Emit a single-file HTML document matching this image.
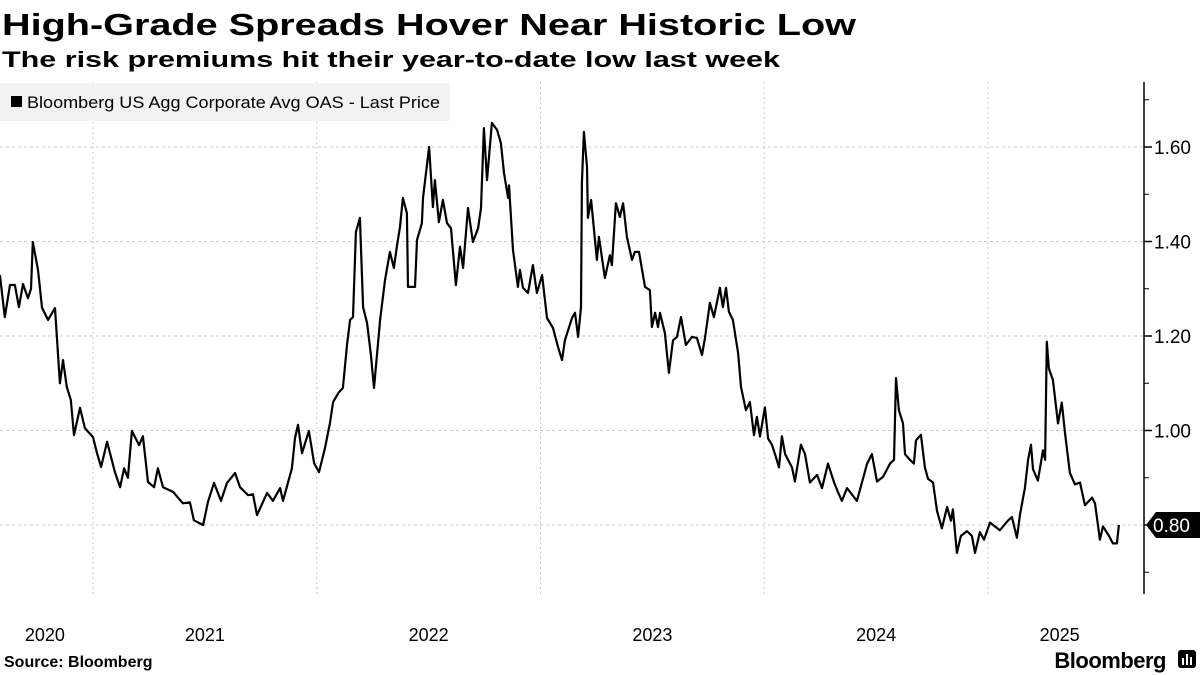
<!DOCTYPE html>
<html><head><meta charset="utf-8"><style>
html,body{margin:0;padding:0;background:#fff;}
svg{display:block;font-family:"Liberation Sans",sans-serif;}
</style></head><body>
<svg id="chart" width="1200" height="675" viewBox="0 0 1200 675" xmlns="http://www.w3.org/2000/svg">
<text x="2" y="35" font-size="31" font-weight="bold" textLength="854" lengthAdjust="spacingAndGlyphs">High-Grade Spreads Hover Near Historic Low</text>
<text x="2" y="67" font-size="22" font-weight="bold" textLength="778" lengthAdjust="spacingAndGlyphs">The risk premiums hit their year-to-date low last week</text>
<g id="grid"></g>
<g id="axes"></g>
<g>
<rect x="0" y="83" width="450" height="38" fill="#f2f2f2"/>
<rect x="11" y="96" width="11" height="11" fill="#000"/>
<text x="27" y="108" font-size="17" textLength="413" lengthAdjust="spacingAndGlyphs">Bloomberg US Agg Corporate Avg OAS - Last Price</text>
</g>
<g id="series"></g>
<g id="xaxis"></g>
<text x="4" y="667" font-size="16" font-weight="bold">Source: Bloomberg</text>
<text x="1166" y="668" font-size="22" font-weight="bold" text-anchor="end" letter-spacing="-0.5">Bloomberg</text>
<g>
<rect x="1178" y="650" width="18" height="18" rx="3" fill="#000"/>
<rect x="1182" y="658" width="2" height="7" fill="#fff"/><rect x="1186" y="654" width="2" height="11" fill="#fff"/><rect x="1190" y="657" width="2" height="8" fill="#fff"/>
</g>
</svg>
<script>
const dates=[2020.584,2020.606,2020.629,2020.651,2020.669,2020.687,2020.709,2020.723,2020.731,2020.754,2020.772,2020.799,2020.830,2020.852,2020.866,2020.883,2020.901,2020.915,2020.942,2020.964,2021.000,2021.018,2021.036,2021.063,2021.098,2021.121,2021.139,2021.156,2021.174,2021.206,2021.223,2021.246,2021.273,2021.290,2021.313,2021.358,2021.402,2021.433,2021.451,2021.492,2021.514,2021.541,2021.572,2021.599,2021.635,2021.657,2021.693,2021.715,2021.733,2021.778,2021.804,2021.836,2021.849,2021.889,2021.903,2021.916,2021.934,2021.965,2021.988,2022.010,2022.037,2022.059,2022.073,2022.099,2022.117,2022.135,2022.149,2022.162,2022.175,2022.193,2022.207,2022.225,2022.242,2022.256,2022.283,2022.305,2022.327,2022.345,2022.359,2022.372,2022.385,2022.403,2022.408,2022.439,2022.448,2022.470,2022.475,2022.502,2022.519,2022.528,2022.546,2022.564,2022.582,2022.600,2022.622,2022.640,2022.654,2022.676,2022.698,2022.721,2022.734,2022.747,2022.761,2022.783,2022.806,2022.823,2022.837,2022.855,2022.859,2022.877,2022.899,2022.908,2022.922,2022.944,2022.966,2022.984,2023.007,2023.029,2023.056,2023.078,2023.096,2023.109,2023.141,2023.154,2023.168,2023.181,2023.185,2023.194,2023.208,2023.212,2023.226,2023.252,2023.261,2023.288,2023.310,2023.319,2023.337,2023.355,2023.369,2023.386,2023.409,2023.422,2023.440,2023.467,2023.489,2023.498,2023.512,2023.525,2023.534,2023.556,2023.574,2023.592,2023.610,2023.628,2023.650,2023.677,2023.699,2023.722,2023.735,2023.757,2023.775,2023.802,2023.815,2023.829,2023.842,2023.860,2023.883,2023.896,2023.918,2023.936,2023.954,2023.967,2023.981,2024.003,2024.017,2024.034,2024.048,2024.066,2024.079,2024.093,2024.124,2024.137,2024.164,2024.182,2024.204,2024.236,2024.258,2024.285,2024.312,2024.329,2024.347,2024.370,2024.414,2024.459,2024.481,2024.504,2024.531,2024.562,2024.580,2024.589,2024.602,2024.620,2024.629,2024.651,2024.669,2024.678,2024.700,2024.718,2024.732,2024.754,2024.772,2024.794,2024.817,2024.834,2024.843,2024.861,2024.879,2024.906,2024.928,2024.942,2024.964,2024.982,2025.009,2025.053,2025.089,2025.107,2025.129,2025.143,2025.165,2025.179,2025.192,2025.201,2025.223,2025.246,2025.255,2025.263,2025.272,2025.290,2025.313,2025.330,2025.344,2025.366,2025.389,2025.411,2025.433,2025.465,2025.478,2025.500,2025.514,2025.541,2025.558,2025.576,2025.585];
const oas=[1.329,1.240,1.308,1.308,1.261,1.310,1.280,1.300,1.399,1.340,1.260,1.234,1.259,1.100,1.149,1.092,1.065,0.990,1.048,1.005,0.986,0.952,0.923,0.976,0.912,0.880,0.920,0.900,0.999,0.969,0.988,0.891,0.880,0.920,0.880,0.870,0.846,0.848,0.810,0.800,0.849,0.889,0.851,0.889,0.910,0.880,0.863,0.865,0.821,0.868,0.851,0.878,0.851,0.920,0.984,1.012,0.952,0.999,0.931,0.912,0.963,1.016,1.060,1.081,1.090,1.181,1.234,1.240,1.420,1.450,1.261,1.227,1.160,1.090,1.234,1.318,1.378,1.344,1.393,1.431,1.492,1.460,1.304,1.304,1.403,1.439,1.492,1.600,1.473,1.530,1.441,1.488,1.439,1.428,1.308,1.389,1.344,1.471,1.399,1.428,1.471,1.640,1.530,1.651,1.636,1.608,1.545,1.492,1.519,1.382,1.304,1.340,1.302,1.291,1.350,1.291,1.329,1.238,1.217,1.177,1.149,1.191,1.238,1.249,1.198,1.261,1.524,1.632,1.558,1.450,1.488,1.361,1.410,1.323,1.371,1.350,1.481,1.452,1.481,1.410,1.361,1.378,1.378,1.304,1.297,1.219,1.249,1.219,1.249,1.206,1.122,1.191,1.198,1.240,1.181,1.198,1.196,1.160,1.196,1.270,1.240,1.302,1.261,1.302,1.251,1.234,1.164,1.092,1.043,1.060,0.990,1.029,0.987,1.049,0.983,0.970,0.950,0.922,0.988,0.950,0.922,0.892,0.970,0.950,0.890,0.906,0.878,0.930,0.890,0.870,0.851,0.878,0.851,0.929,0.950,0.892,0.902,0.930,0.938,1.111,1.043,1.015,0.950,0.938,0.930,0.979,0.991,0.922,0.898,0.890,0.830,0.793,0.838,0.809,0.833,0.741,0.777,0.787,0.777,0.741,0.785,0.769,0.805,0.789,0.809,0.817,0.773,0.822,0.878,0.938,0.970,0.918,0.894,0.958,0.938,1.188,1.131,1.107,1.015,1.059,0.995,0.910,0.886,0.890,0.842,0.858,0.846,0.769,0.797,0.777,0.761,0.761,0.800];
const yMajorTicks=[0.80,1.00,1.20,1.40,1.60];
const yMinorTicks=[0.70,0.90,1.10,1.30,1.50,1.70];
const yearTicks=[2021,2022,2023,2024,2025];
const yearLabels=["2020","2021","2022","2023","2024","2025"];
const yearLabelPos=[2020.785,2021.5,2022.5,2023.5,2024.5,2025.32];
const lastLabel="0.80";

const NS="http://www.w3.org/2000/svg";
const plotL=0,plotR=1144,plotT=82,plotB=594;
function xScale(t){return 93+(t-2021)*223.75;}
function yScale(v){return 525-(v-0.8)*472.5;}
function mk(tag,attrs,parent){const e=document.createElementNS(NS,tag);for(const k in attrs)e.setAttribute(k,attrs[k]);parent.appendChild(e);return e;}
const grid=document.getElementById('grid'),axes=document.getElementById('axes'),series=document.getElementById('series'),xaxis=document.getElementById('xaxis');
yMajorTicks.forEach(v=>{
  const y=yScale(v);
  const g=mk('line',{x1:plotL,x2:plotR,y1:y,y2:y,stroke:'#c8c8c8','stroke-width':1,'stroke-dasharray':'3,3'},grid);
  
  
  const t=mk('line',{x1:plotR,x2:plotR+8,y1:y,y2:y,stroke:'#000','stroke-width':1.5},axes);
  
  
  if(Math.abs(v-0.8)>1e-6){
    const l=mk('text',{x:plotR+10,y:y+7,'font-size':19},axes);
    
    
    l.textContent=v.toFixed(2);
  }
});
yMinorTicks.forEach(v=>{
  const y=yScale(v);
  const t=mk('line',{x1:plotR,x2:plotR+5,y1:y,y2:y,stroke:'#000','stroke-width':1},axes);
  
  
});
yearTicks.forEach(yr=>{
  const x=xScale(yr);
  const g=mk('line',{x1:x,x2:x,y1:plotT,y2:plotB,stroke:'#c8c8c8','stroke-width':1,'stroke-dasharray':'2,3'},grid);
  
  
});
yearLabels.forEach((lab,i)=>{
  const t=mk('text',{x:xScale(yearLabelPos[i]),y:641,'font-size':18,'text-anchor':'middle'},xaxis);
  
  
  t.textContent=lab;
});
const ax=mk('line',{x1:plotR,x2:plotR,y1:plotT,y2:plotB,stroke:'#000','stroke-width':1.5},axes);


let d='';
dates.forEach((t,i)=>{d+=(i?'L':'M')+xScale(t).toFixed(1)+','+yScale(oas[i]).toFixed(1);});
const p=mk('path',{d:d,fill:'none',stroke:'#000','stroke-width':2.2,'stroke-linejoin':'round'},series);


const lastV=oas[oas.length-1],ly=yScale(lastV);
const tag=mk('path',{d:`M${plotR+2},${ly} L${plotR+12},${ly-13} L1200,${ly-13} L1200,${ly+13} L${plotR+12},${ly+13} Z`,fill:'#000'},axes);


const tl=mk('text',{x:1153,y:ly+7,'font-size':19,fill:'#fff'},axes);


tl.textContent=lastLabel;
</script>
</body></html>
